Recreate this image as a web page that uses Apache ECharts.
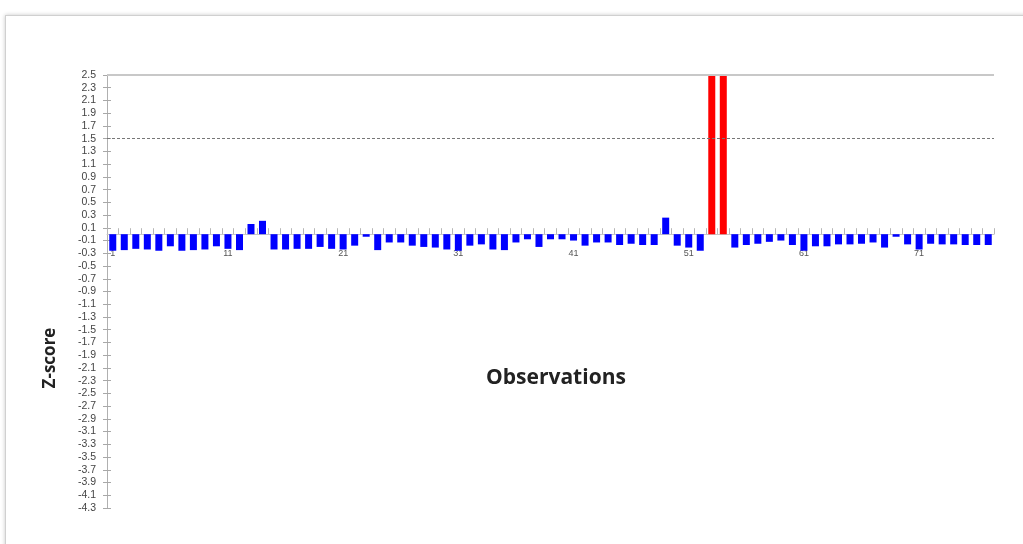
<!DOCTYPE html>
<html>
<head>
<meta charset="utf-8">
<title>Z-score by observation</title>
<script src="https://cdn.jsdelivr.net/npm/echarts@6/dist/echarts.min.js"></script>
<style>
  html, body { margin: 0; padding: 0; background: #fff; width: 1023px; height: 544px; overflow: hidden; }
  #frame { position: absolute; left: 5px; top: 15px; width: 1040px; height: 560px;
           border: 1px solid #d0d0d0; box-shadow: 0 0 4px rgba(0,0,0,0.22); }
  #chart { position: absolute; left: 0; top: 0; width: 1023px; height: 544px; }
</style>
</head>
<body>
<div id="frame"></div>
<div id="chart"></div>
<script>
// Observation numbers along the x axis
const observations = [
  '1','2','3','4','5','6','7','8','9','10','11','12','13','14','15','16','17','18','19','20',
  '21','22','23','24','25','26','27','28','29','30','31','32','33','34','35','36','37','38','39','40',
  '41','42','43','44','45','46','47','48','49','50','51','52','53','54','55','56','57','58','59','60',
  '61','62','63','64','65','66','67','68','69','70','71','72','73','74','75','76','77'
];

// Z-score of each observation
const zScores = [
  -0.26, -0.25, -0.23, -0.24, -0.26, -0.19, -0.26, -0.25, -0.24, -0.19,
  -0.23, -0.25,  0.16,  0.21, -0.24, -0.24, -0.23, -0.23, -0.20, -0.23,
  -0.24, -0.18, -0.04, -0.25, -0.13, -0.13, -0.18, -0.20, -0.21, -0.24,
  -0.26, -0.18, -0.16, -0.24, -0.25, -0.13, -0.08, -0.20, -0.08, -0.08,
  -0.10, -0.18, -0.13, -0.13, -0.17, -0.15, -0.17, -0.17,  0.26, -0.18,
  -0.21, -0.26,  3.40,  3.10, -0.21, -0.17, -0.15, -0.12, -0.10, -0.17,
  -0.26, -0.19, -0.19, -0.16, -0.16, -0.15, -0.13, -0.21, -0.04, -0.16,
  -0.24, -0.15, -0.16, -0.16, -0.17, -0.17, -0.17
];

// Critical value (dotted reference line) and the axis range
const threshold = 1.5;
const yRange = [-4.3, 2.5];
const yStep = 0.2;

const normalColor = '#0000ff';
const outlierColor = '#ff0000';

// Plot area inside the 1023x544 canvas
const grid = { left: 107, right: 29, top: 75, bottom: 36 };
const plotHeight = 544 - grid.top - grid.bottom;
// distance of the zero line above the bottom of the plot, so the category axis sits on it
const zeroLift = plotHeight * (0 - yRange[0]) / (yRange[1] - yRange[0]);

const chart = echarts.init(document.getElementById('chart'), null, { renderer: 'canvas' });

const barData = zScores.map(v => ({
  value: v,
  itemStyle: { color: v > threshold ? outlierColor : normalColor }
}));

const yAxisBase = {
  type: 'value',
  min: yRange[0],
  max: yRange[1],
  interval: yStep,
  position: 'left',
  splitLine: { show: false }
};

chart.setOption({
  animation: false,
  backgroundColor: 'transparent',
  grid: Object.assign({ containLabel: false, outerBoundsMode: 'none' }, grid),
  xAxis: {
    type: 'category',
    data: observations,
    boundaryGap: true,
    position: 'bottom',
    offset: -zeroLift,
    axisLine: { onZero: false, lineStyle: { color: '#c8c8c8', width: 1 } },
    axisTick: { show: true, inside: true, length: 6, interval: 0, lineStyle: { color: '#b8b8b8' } },
    axisLabel: { interval: 9, margin: 15, fontSize: 9, color: '#555', fontFamily: 'Liberation Sans' },
    splitLine: { show: false }
  },
  yAxis: [
    Object.assign({}, yAxisBase, {
      axisLine: { show: true, onZero: false, lineStyle: { color: '#b0b0b0', width: 1 } },
      axisTick: { show: true, inside: false, length: 4, lineStyle: { color: '#a8a8a8' } },
      axisLabel: {
        fontSize: 10.5, color: '#444', margin: 11, fontFamily: 'Liberation Sans',
        formatter: v => v.toFixed(1)
      }
    }),
    Object.assign({}, yAxisBase, {
      axisLine: { show: false },
      axisTick: { show: true, inside: true, length: 4, lineStyle: { color: '#a8a8a8' } },
      axisLabel: { show: false }
    })
  ],
  series: [{
    type: 'bar',
    data: barData,
    barWidth: 7,
    clip: true,
    markLine: {
      silent: true,
      symbol: 'none',
      label: { show: false },
      data: [
        { yAxis: threshold, lineStyle: { type: [3, 2], color: '#777', width: 1.2 } },
        { yAxis: yRange[1], lineStyle: { type: 'solid', color: '#c8c8c8', width: 2 } }
      ]
    }
  }],
  graphic: [
    {
      type: 'text',
      x: 556,
      y: 378,
      style: {
        text: 'Observations', font: 'bold 21px "Open Sans", "Liberation Sans", sans-serif', fill: '#222',
        align: 'center', verticalAlign: 'middle'
      }
    },
    {
      type: 'text',
      x: 50,
      y: 358,
      rotation: Math.PI / 2,
      style: {
        text: 'Z-score', font: 'bold 17px "Open Sans", "Liberation Sans", sans-serif', fill: '#222',
        align: 'center', verticalAlign: 'middle'
      }
    }
  ]
});
</script>
</body>
</html>
